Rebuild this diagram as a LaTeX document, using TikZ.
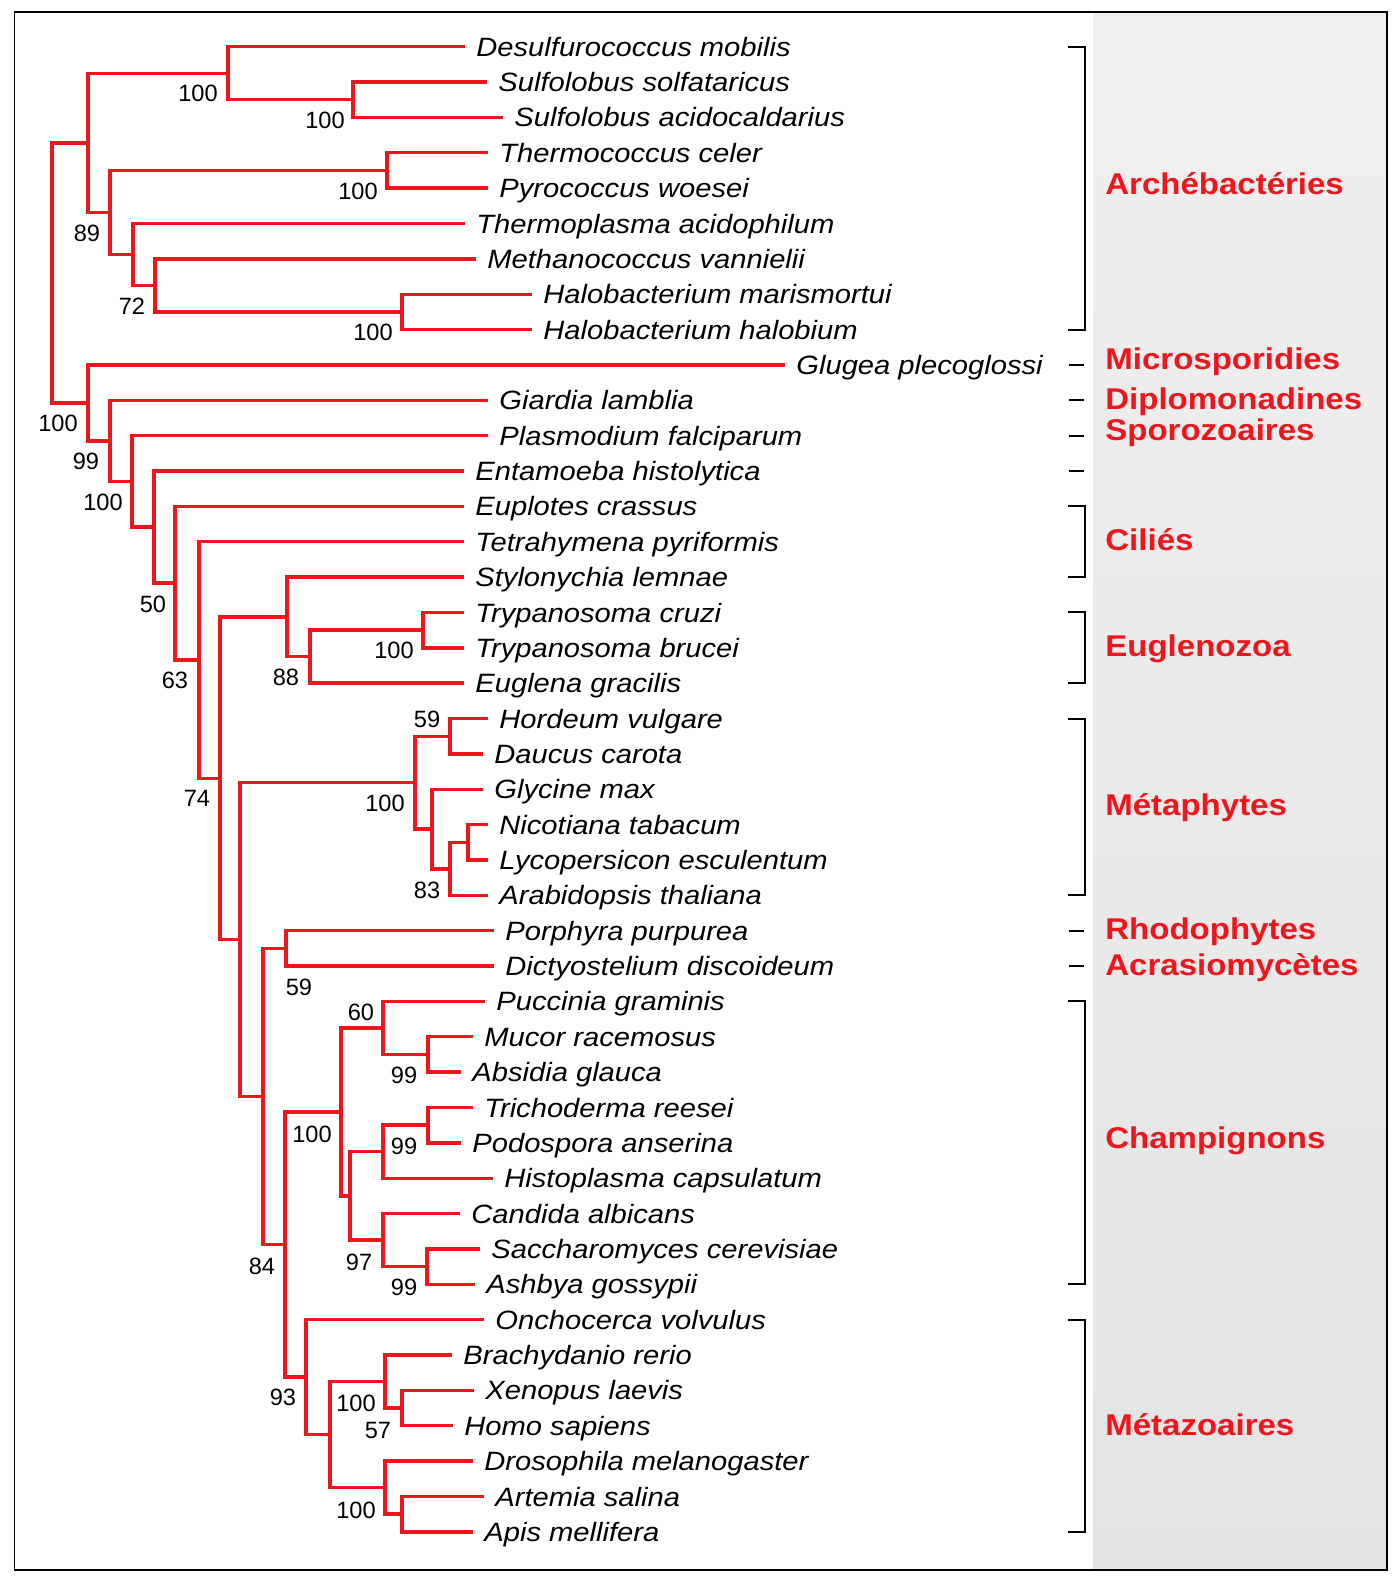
\documentclass[tikz,border=0pt]{standalone}
\usepackage{fontspec}
\setmainfont{Liberation Sans}
\newfontfamily\speciesfont[FakeStretch=1.1]{Liberation Sans}
\newfontfamily\groupfont[FakeStretch=1.1]{Liberation Sans}
\usepackage{xcolor}
\usepackage{tikz}
\definecolor{treered}{RGB}{238,22,28}

\begin{document}
\begin{tikzpicture}[x=0.5pt, y=-17.68pt,
    branch/.style={treered, line width=1.7pt},
    leaf/.style={anchor=base west, inner sep=0pt, font=\speciesfont\itshape\fontsize{13.25}{15}\selectfont},
    boot/.style={inner sep=0pt, font=\fontsize{11.8}{14}\selectfont},
    group/.style={anchor=base west, inner sep=0pt, text=treered, font=\groupfont\bfseries\fontsize{15}{18}\selectfont},
    bracket/.style={black, line width=1pt}]
    \useasboundingbox (0,-0.3207) rectangle (1397,44.391);

    % Frame and grey panel
    \shade[top color=gray!12, bottom color=gray!21] (1093,0.02) rectangle (1387,44.08);
    \draw[line width=0.9pt] (14.5,0.02) rectangle (1387,44.08);

    % Leaves
    \foreach \xe/\name [count=\i] in {465/Desulfurococcus mobilis, 487/Sulfolobus solfataricus,
        503/Sulfolobus acidocaldarius, 488/Thermococcus celer, 488/Pyrococcus woesei,
        465/Thermoplasma acidophilum, 476/Methanococcus vannielii, 532/Halobacterium marismortui,
        532/Halobacterium halobium, 785/Glugea plecoglossi, 488/Giardia lamblia,
        488/Plasmodium falciparum, 464/Entamoeba histolytica, 464/Euplotes crassus,
        464/Tetrahymena pyriformis, 464/Stylonychia lemnae, 464/Trypanosoma cruzi,
        464/Trypanosoma brucei, 464/Euglena gracilis, 488/Hordeum vulgare, 483/Daucus carota,
        483/Glycine max, 488/Nicotiana tabacum, 488/Lycopersicon esculentum,
        488/Arabidopsis thaliana, 494/Porphyra purpurea, 494/Dictyostelium discoideum,
        485/Puccinia graminis, 473/Mucor racemosus, 461/Absidia glauca, 473/Trichoderma reesei,
        461/Podospora anserina, 493/Histoplasma capsulatum, 460/Candida albicans,
        480/Saccharomyces cerevisiae, 475/Ashbya gossypii, 484/Onchocerca volvulus,
        452/Brachydanio rerio, 474/Xenopus laevis, 453/Homo sapiens,
        473/Drosophila melanogaster, 484/Artemia salina, 473/Apis mellifera}
    {
        \coordinate (l\i) at (\xe,\i);
        \node[leaf] (t\i) at (\xe+11,\i+0.27) {\name};
    }

    % Internal nodes
    \foreach \n/\x/\y in {a3/353/2.5, a2/228/1.75, a5/387/4.5, a8/402/8.5, a7/155/7.75,
        a6/133/6.875, a4/110/5.6875, a1/88/3.71875,
        g3/423/17.5, g2/310/18.25, g1/287/17.125,
        m2/450/20.5, m5/468/23.5, m4/450/24.25, m3/432/23.125, m1/415/21.8125,
        r1/286/26.5,
        f2/428/29.5, f1/383/28.75, f5/428/31.5, f4/383/32.25, f7/427/35.5, f6/383/34.75,
        f3/350/33.5, f0/341/31.125,
        z3/402/39.5, z2/385/38.75, z5/402/42.5, z4/385/41.75, z1/330/40.25, z0/306/38.625,
        u10/285/34.875, u9/263/30.6875, u8/240/26.25, u7/220/21.6875, u6/199/18.34375,
        u5/175/16.171875, u4/154/14.5859375, u3/132/13.29296875, u2/110/12.146484375,
        u1/88/11.0732421875, root/52/7.396}
        \coordinate (\n) at (\x,\y);

    % Branches
    \foreach \n/\p/\q in {a3/l2/l3, a2/l1/a3, a5/l4/l5, a8/l8/l9, a7/l7/a8, a6/l6/a7,
        a4/a5/a6, a1/a2/a4,
        g3/l17/l18, g2/g3/l19, g1/l16/g2,
        m2/l20/l21, m5/l23/l24, m4/m5/l25, m3/l22/m4, m1/m2/m3,
        r1/l26/l27,
        f2/l29/l30, f1/l28/f2, f5/l31/l32, f4/f5/l33, f7/l35/l36, f6/l34/f7, f3/f4/f6, f0/f1/f3,
        z3/l39/l40, z2/l38/z3, z5/l42/l43, z4/l41/z5, z1/z2/z4, z0/l37/z1,
        u10/f0/z0, u9/r1/u10, u8/m1/u9, u7/g1/u8, u6/l15/u7, u5/l14/u6, u4/l13/u5,
        u3/l12/u4, u2/l11/u3, u1/l10/u2, root/a1/u1}
        \draw[branch] (\p) -| (\n) |- (\q);

    % Bootstrap values
    \foreach \x/\y/\v [count=\k] in {198/2.31/100, 325/3.07/100, 358/5.08/100, 87/6.27/89,
        132/8.33/72, 373/9.07/100, 58/11.64/100, 86/12.74/99, 103/13.88/100, 153/16.76/50,
        175/18.91/63, 286/18.83/88, 394/18.06/100, 197/22.25/74, 427/20.01/59,
        385/22.39/100, 427/24.85/83, 299/27.59/59, 361/28.30/60, 404/30.08/99,
        312/31.75/100, 404/32.09/99, 262/35.48/84, 359/35.37/97, 404/36.08/99,
        283/39.21/93, 356/39.36/100, 378/40.12/57, 356/42.39/100}
        \node[boot] (b\k) at (\x,\y) {\v};

    % Brackets and dashes
    \foreach \a/\b in {1/9, 14/16, 17/19, 20/25, 28/36, 37/43}
        \draw[bracket] (1068,\a) -| (1085,\b) -- (1068,\b);
    \foreach \a in {10,11,12,13,26,27}
        \draw[bracket] (1069,\a) -- (1084,\a);

    % Group names
    \foreach \y/\txt [count=\k] in {5.17/Archébactéries, 10.12/Microsporidies,
        11.25/Diplomonadines, 12.15/Sporozoaires, 15.25/Ciliés, 18.25/Euglenozoa,
        22.75/Métaphytes, 26.25/Rhodophytes, 27.27/Acrasiomycètes, 32.15/Champignons,
        40.28/Métazoaires}
        \node[group] (grp\k) at (1105,\y) {\txt};
\end{tikzpicture}
\end{document}
